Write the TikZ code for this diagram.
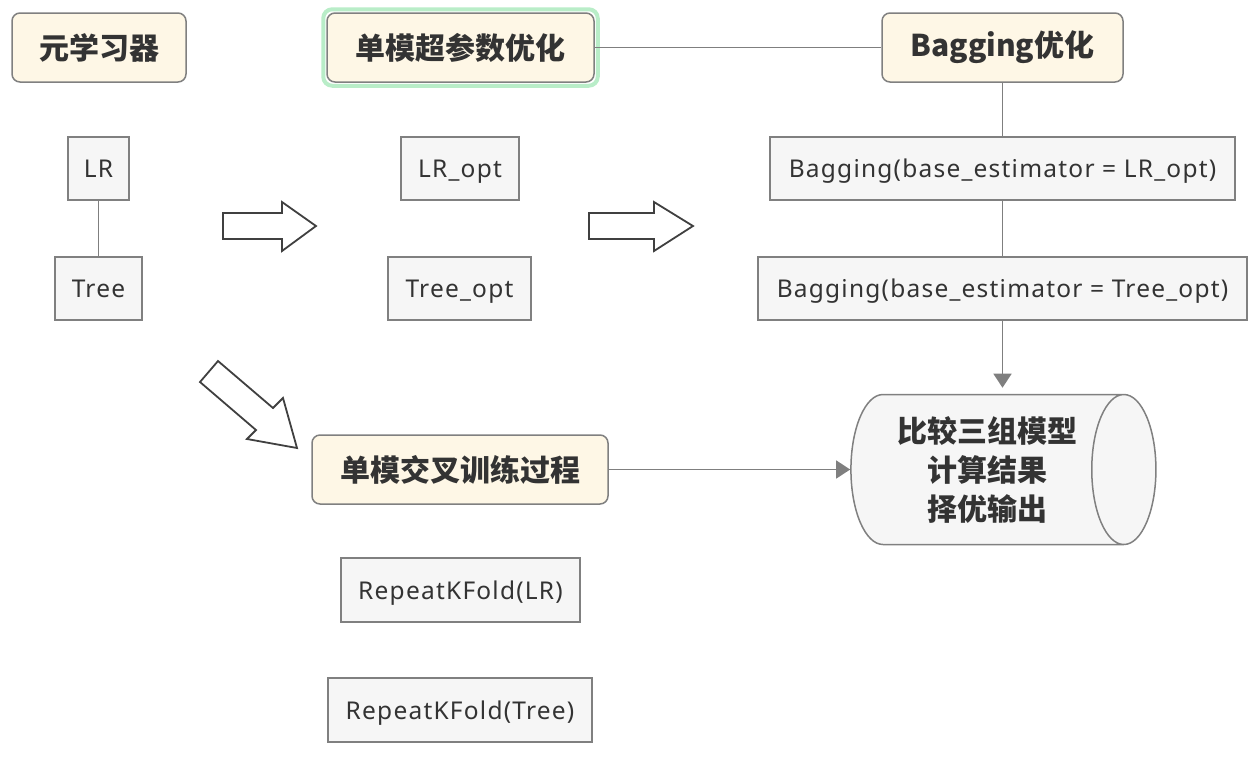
\documentclass[tikz,border=0pt]{standalone}
\usepackage{fontspec}
\setmainfont{Noto Sans}[LetterSpace=5]
\newfontfamily\cjk{Noto Sans CJK SC}
\usepackage{tikz}
\usetikzlibrary{arrows.meta,shapes.geometric,fit}
\definecolor{cream}{HTML}{FEF7E6}
\definecolor{boxfill}{HTML}{F6F6F6}
\definecolor{boxgray}{HTML}{808080}
\definecolor{linegray}{HTML}{7F7F7F}
\definecolor{arrdark}{HTML}{404040}
\definecolor{txt}{HTML}{333333}
\definecolor{glowgreen}{HTML}{B9EDC8}
\newcommand\titlefont{\cjk\bfseries\fontsize{30}{39}\selectfont}
\newcommand\itemfont{\fontsize{24.5}{29}\selectfont}
\tikzset{
  titlebox/.style = {draw=boxgray,fill=cream,rounded corners=8pt,line width=1.5pt,
                     minimum height=69pt,inner sep=0pt,font=\titlefont,text=txt},
  itembox/.style  = {draw=boxgray,fill=boxfill,line width=1.5pt,
                     minimum height=63pt,inner sep=0pt,font=\itemfont,text=txt,
                     text height=18pt,text depth=0pt},
  glow/.style     = {draw=glowgreen,line width=4pt,rounded corners=9pt,inner sep=3pt},
  link/.style     = {draw=linegray,line width=1.5pt},
  flow/.style     = {link,-{Triangle[length=14pt,width=18pt]},linegray},
  blockarr/.style = {draw=arrdark,fill=white,line width=1.8pt,line join=miter}
}

\begin{document}
\begin{tikzpicture}[x=1pt,y=-1pt]
  \useasboundingbox (0,0) rectangle (1260,756);
  % headings
  \node[titlebox,minimum width=174pt] (meta)   at (99,47.5)    {元学习器};
  \node[titlebox,minimum width=267pt] (single) at (460.5,47.5) {单模超参数优化};
  \node[titlebox,minimum width=241pt] (bag)    at (1002.5,47.5){Bagging优化};
  \node[glow,fit=(single)] (singleglow) {};
  \node[titlebox,minimum width=296pt] (cv)     at (460,469.5)  {单模交叉训练过程};
  % base learners
  \node[itembox,minimum width=61pt]  (lr)      at (98.5,168.5)  {LR};
  \node[itembox,minimum width=87pt]  (tree)    at (98.5,288.5)  {Tree};
  \node[itembox,minimum width=118pt] (lropt)   at (460,168.5)   {LR\_opt};
  \node[itembox,minimum width=143pt] (treeopt) at (459.5,288.5) {Tree\_opt};
  \node[itembox,minimum width=465pt] (baglr)   at (1002.5,168.5)
        {Bagging(base\_estimator = LR\_opt)};
  \node[itembox,minimum width=489pt] (bagtree) at (1002.5,288.5)
        {Bagging(base\_estimator = Tree\_opt)};
  \node[itembox,minimum width=239pt,minimum height=64pt] (rklr)   at (460.5,590)
        {RepeatKFold(LR)};
  \node[itembox,minimum width=264pt,minimum height=64pt] (rktree) at (460,710)
        {RepeatKFold(Tree)};
  % result
  \node[cylinder,draw=boxgray,fill=boxfill,line width=1.5pt,shape aspect=0.6,
        minimum width=150pt,minimum height=305pt,inner sep=0pt,
        font=\titlefont,text=txt,align=center] (result) at (987,469.5)
        {比较三组模型\\计算结果\\择优输出};
  % connectors
  \draw[link] (lr) -- (tree);
  \draw[link] (single) -- (bag);
  \draw[link] (bag) -- (baglr);
  \draw[link] (baglr) -- (bagtree);
  \draw[flow,shorten >=6pt] (bagtree) -- (bagtree.south |- result.north);
  \draw[flow] (cv) -- (result.west);
  % block arrows
  \draw[blockarr] (223,213) -- (282,213) -- (282,202) -- (316,226)
                  -- (282,251) -- (282,239) -- (223,239) -- cycle;
  \draw[blockarr] (589,213) -- (654,213) -- (654,202) -- (693,226)
                  -- (654,251) -- (654,239) -- (589,239) -- cycle;
  \draw[blockarr] (200,382) -- (218,361) -- (273,408) -- (283,398)
                  -- (297,448) -- (247,439) -- (256,430) -- cycle;
\end{tikzpicture}
\end{document}
